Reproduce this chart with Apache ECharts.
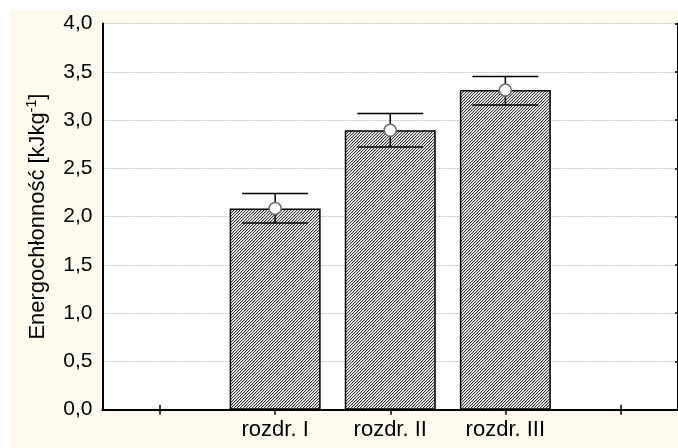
<!DOCTYPE html>
<html>
<head>
<meta charset="utf-8">
<script src="https://cdn.jsdelivr.net/npm/echarts@6/dist/echarts.min.js"></script>
<style>
html,body{margin:0;padding:0;background:#fff;}
#c{width:678px;height:448px;}
</style>
</head>
<body>
<div id="c"></div>
<script>
var categories = ['', 'rozdr. I', 'rozdr. II', 'rozdr. III', ''];
var means = [null, 2.085, 2.895, 3.31, null];
var lower = [null, 1.935, 2.72, 3.155, null];
var upper = [null, 2.24, 3.068, 3.452, null];
var yTicks = [0, 0.5, 1, 1.5, 2, 2.5, 3, 3.5, 4];

var FONT = 'Arial';

// hatch pattern
var pc = document.createElement('canvas');
pc.width = 3; pc.height = 3;
var pctx = pc.getContext('2d');
pctx.fillStyle = '#ffffff';
pctx.fillRect(0, 0, 3, 3);
for (var i = 0; i < 3; i++) {
  pctx.fillStyle = '#3a3a3a';
  pctx.fillRect(i, 2 - i, 1, 1);
  pctx.fillStyle = '#c8c8c8';
  pctx.fillRect(i, (3 - i) % 3, 1, 1);
}

var chart = echarts.init(document.getElementById('c'), null, {renderer: 'canvas'});

var errData = [];
for (var k = 0; k < categories.length; k++) {
  if (means[k] != null) errData.push([k, means[k], lower[k], upper[k]]);
}

var option = {
  animation: false,
  backgroundColor: '#ffffff',
  textStyle: {fontFamily: FONT, fontSize: 16},
  graphic: [{
    type: 'rect', z: -10, silent: true,
    shape: {x: 10, y: 10, width: 668, height: 438},
    style: {fill: '#fffaee'}
  }],
  grid: {left: 102.5, top: 23.5, bottom: 38.3, right: -1.75, containLabel: false,
         show: true, backgroundColor: '#ffffff', borderWidth: 0},
  xAxis: [{
    type: 'category', data: categories, position: 'bottom',
    boundaryGap: true,
    axisLine: {lineStyle: {color: '#000', width: 2}},
    axisTick: {show: true, inside: true, alignWithLabel: true, length: 5, lineStyle: {color: '#000', width: 1.5}},
    axisLabel: {color: '#000', fontSize: 22, fontFamily: FONT, margin: 9, interval: 0},
    splitLine: {show: false}
  }, {
    type: 'category', data: categories, position: 'top',
    boundaryGap: true,
    axisLine: {lineStyle: {color: '#000', width: 2}},
    axisTick: {show: true, inside: true, alignWithLabel: true, length: 5, lineStyle: {color: '#000', width: 1.5}},
    axisLabel: {show: false},
    splitLine: {show: false}
  }],
  yAxis: [{
    type: 'value', min: 0, max: 4, interval: 0.5, position: 'left',
    name: 'Energochłonność [kJkg{sup|-1}]',
    nameLocation: 'middle', nameRotate: 90, nameGap: 53,
    nameTextStyle: {color: '#000', fontSize: 22, fontFamily: FONT,
      rich: {sup: {fontSize: 14, fontFamily: FONT, color: '#000', verticalAlign: 'top', padding: [0, 0, 10, 0]}}},
    axisLine: {show: true, lineStyle: {color: '#000', width: 2}},
    axisTick: {show: false},
    axisLabel: {color: '#000', fontSize: 21, fontFamily: FONT, margin: 10,
      formatter: function (v) { return v.toFixed(1).replace('.', ','); }},
    splitLine: {show: true, lineStyle: {color: '#c4c4c4', type: [2, 1], width: 1}}
  }, {
    type: 'value', min: 0, max: 4, interval: 0.5, position: 'right',
    axisLine: {show: true, lineStyle: {color: '#000', width: 2}},
    axisTick: {show: true, inside: true, length: 3, lineStyle: {color: '#000', width: 1.5}},
    axisLabel: {show: false},
    splitLine: {show: false}
  }],
  series: [{
    type: 'bar', data: means, barWidth: 91, xAxisIndex: 0, yAxisIndex: 0,
    itemStyle: {color: {image: pc, repeat: 'repeat'}, borderColor: '#000', borderWidth: 1.5},
    z: 2
  }, {
    type: 'custom', xAxisIndex: 0, yAxisIndex: 0, z: 5,
    data: errData,
    renderItem: function (params, api) {
      var x = api.value(0);
      var pm = api.coord([x, api.value(1)]);
      var pl = api.coord([x, api.value(2)]);
      var pu = api.coord([x, api.value(3)]);
      var hw = 33;
      var ls = {stroke: '#000', lineWidth: 1.5};
      return {
        type: 'group',
        children: [
          {type: 'line', shape: {x1: pm[0], y1: pu[1], x2: pm[0], y2: pl[1]}, style: ls},
          {type: 'line', shape: {x1: pm[0] - hw, y1: pu[1], x2: pm[0] + hw, y2: pu[1]}, style: ls},
          {type: 'line', shape: {x1: pm[0] - hw, y1: pl[1], x2: pm[0] + hw, y2: pl[1]}, style: ls},
          {type: 'circle', shape: {cx: pm[0], cy: pm[1], r: 6}, style: {fill: '#ffffff', stroke: '#6e6e6e', lineWidth: 1.5}}
        ]
      };
    }
  }]
};
chart.setOption(option);
</script>
</body>
</html>
